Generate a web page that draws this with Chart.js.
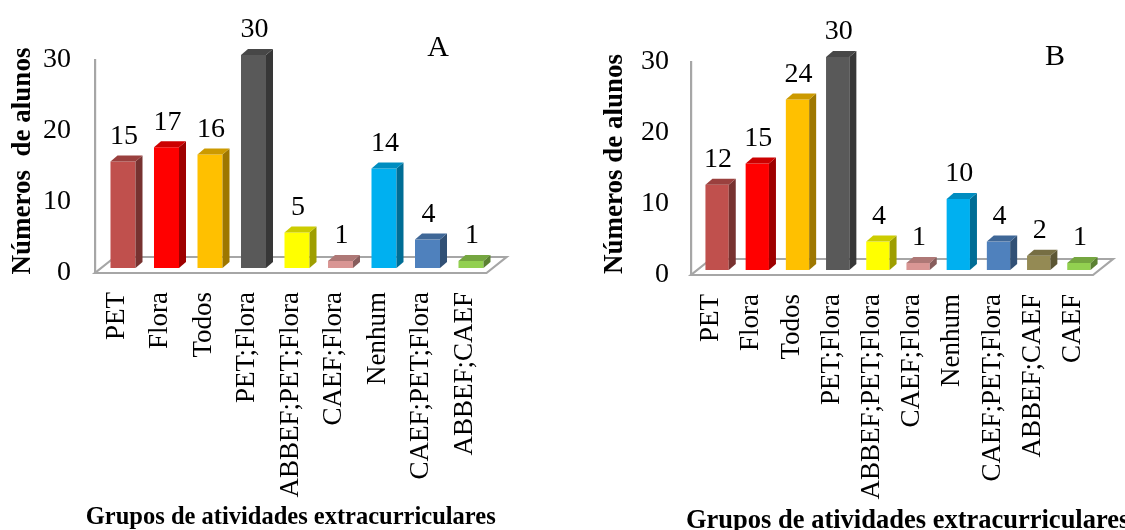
<!DOCTYPE html>
<html>
<head>
<meta charset="utf-8">
<script src="https://cdn.jsdelivr.net/npm/chart.js@4.4.0/dist/chart.umd.min.js"></script>
<style>
  html, body { margin: 0; padding: 0; background: #ffffff; }
  #wrap { position: relative; width: 1125px; height: 530px; overflow: hidden; background: #ffffff; }
  .panel { position: absolute; top: 0; height: 530px; }
  #pa { left: 0; width: 560px; }
  #pb { left: 560px; width: 565px; }
</style>
</head>
<body>
<div id="wrap">
  <div class="panel" id="pa"><canvas id="ca" width="560" height="530" style="width:560px;height:530px"></canvas></div>
  <div class="panel" id="pb"><canvas id="cb" width="565" height="530" style="width:565px;height:530px"></canvas></div>
</div>
<script>
// ---- data ----
const categoriesA = ['PET', 'Flora', 'Todos', 'PET;Flora', 'ABBEF;PET;Flora', 'CAEF;Flora', 'Nenhum', 'CAEF;PET;Flora', 'ABBEF;CAEF'];
const valuesA = [15, 17, 16, 30, 5, 1, 14, 4, 1];

const categoriesB = ['PET', 'Flora', 'Todos', 'PET;Flora', 'ABBEF;PET;Flora', 'CAEF;Flora', 'Nenhum', 'CAEF;PET;Flora', 'ABBEF;CAEF', 'CAEF'];
const valuesB = [12, 15, 24, 30, 4, 1, 10, 4, 2, 1];

const yTicks = [0, 10, 20, 30];

const yTitleA = 'Números  de alunos';
const yTitleB = 'Números de alunos';
const xTitle = 'Grupos de atividades extracurriculares';

// ---- styling ----
const SERIF = '"Liberation Serif", "Times New Roman", Times, serif';
const colorsA = ['#C0504D', '#FF0000', '#FFC000', '#595959', '#FFFF00', '#D99694', '#00B0F0', '#4F81BD', '#92D050'];
const colorsB = ['#C0504D', '#FF0000', '#FFC000', '#595959', '#FFFF00', '#D99694', '#00B0F0', '#4F81BD', '#948A54', '#92D050'];
const AXIS_GRAY = '#A6A6A6';

function shade(hex, f) {
  const n = parseInt(hex.slice(1), 16);
  const r = Math.round(((n >> 16) & 255) * f);
  const g = Math.round(((n >> 8) & 255) * f);
  const b = Math.round((n & 255) * f);
  return `rgb(${r},${g},${b})`;
}

// Draws the 3D floor, shifts the bars into the middle of the floor depth,
// adds top/side faces, value labels, the panel letter and the axis titles.
const column3d = {
  id: 'column3d',
  beforeDatasetsDraw(chart, args, o) {
    const { ctx, chartArea: a } = chart;
    ctx.save();
    ctx.strokeStyle = AXIS_GRAY;
    ctx.lineWidth = 2.2;
    ctx.lineJoin = 'miter';
    ctx.beginPath();
    ctx.moveTo(a.left, a.bottom);
    ctx.lineTo(a.right, a.bottom);
    ctx.lineTo(a.right + o.floorDx, a.bottom + o.floorDy);
    ctx.lineTo(a.left + o.floorDx, a.bottom + o.floorDy);
    ctx.closePath();
    ctx.stroke();
    ctx.restore();
    ctx.save();
    ctx.translate(o.shiftX, o.shiftY);
  },
  afterDatasetsDraw(chart, args, o) {
    const ctx = chart.ctx;
    const ds = chart.data.datasets[0];
    const meta = chart.getDatasetMeta(0);
    meta.data.forEach((bar, i) => {
      const { x, y, base, width } = bar.getProps(['x', 'y', 'base', 'width'], true);
      const l = x - width / 2, r = x + width / 2;
      const dx = o.depthX, dy = o.depthY;
      const c = ds.backgroundColor[i];
      // side face
      ctx.fillStyle = shade(c, 0.62);
      ctx.beginPath();
      ctx.moveTo(r, y); ctx.lineTo(r + dx, y + dy); ctx.lineTo(r + dx, base + dy); ctx.lineTo(r, base);
      ctx.closePath(); ctx.fill();
      // top face
      ctx.fillStyle = shade(c, 0.8);
      ctx.beginPath();
      ctx.moveTo(l, y); ctx.lineTo(l + dx, y + dy); ctx.lineTo(r + dx, y + dy); ctx.lineTo(r, y);
      ctx.closePath(); ctx.fill();
    });
    ctx.restore();

    // value labels
    ctx.save();
    ctx.fillStyle = '#000';
    ctx.font = `28px ${SERIF}`;
    ctx.textAlign = 'center';
    ctx.textBaseline = 'middle';
    meta.data.forEach((bar, i) => {
      const { x, y } = bar.getProps(['x', 'y'], true);
      ctx.fillText(String(ds.data[i]), x + o.shiftX + 1, y + o.shiftY - 25);
    });
    // panel letter
    ctx.font = `30px ${SERIF}`;
    ctx.fillText(o.letter, o.letterX, o.letterY);
    ctx.restore();
  },
  afterDraw(chart, args, o) {
    const ctx = chart.ctx;
    const a = chart.chartArea;
    ctx.save();
    ctx.fillStyle = '#000';
    ctx.textBaseline = 'middle';
    // category axis title
    ctx.font = `bold ${o.titleSize}px ${SERIF}`;
    if (o.titleAlign === 'start') {
      ctx.textAlign = 'left';
      ctx.fillText(xTitle, o.titleX, o.titleY);
    } else {
      ctx.textAlign = 'center';
      ctx.fillText(xTitle, (a.left + a.right) / 2, o.titleY);
    }
    // value axis title, rotated
    ctx.font = `bold 27px ${SERIF}`;
    ctx.textAlign = 'center';
    ctx.translate(o.yTitleX, o.yTitleY);
    ctx.rotate(-Math.PI / 2);
    ctx.fillText(o.yTitle, 0, 0);
    ctx.restore();
  }
};

function makeChart(canvasId, labels, values, colors, cfg) {
  return new Chart(document.getElementById(canvasId), {
    type: 'bar',
    data: {
      labels: labels,
      datasets: [{
        data: values,
        backgroundColor: colors,
        borderWidth: 0,
        categoryPercentage: 1,
        barPercentage: cfg.barPct,
        clip: false
      }]
    },
    options: {
      responsive: false,
      animation: false,
      events: [],
      layout: { padding: { left: 0, right: cfg.padRight, top: cfg.top, bottom: 0 } },
      plugins: {
        legend: { display: false },
        tooltip: { enabled: false },
        column3d: cfg.plugin
      },
      scales: {
        x: {
          grid: { display: false, drawTicks: false },
          border: { display: false },
          ticks: {
            autoSkip: false, minRotation: 90, maxRotation: 90, padding: 19,
            color: '#000', font: { family: SERIF, size: 27 }
          },
          title: { display: false },
          afterFit(s) { s.height = 530 - cfg.bottom; }
        },
        y: {
          min: 0, max: 30,
          grid: { display: false, drawTicks: false },
          border: { display: true, color: AXIS_GRAY, width: 2.2 },
          ticks: { padding: cfg.tickPad, color: '#000', font: { family: SERIF, size: 28 } },
          afterBuildTicks(s) { s.ticks = yTicks.map(v => ({ value: v })); },
          title: { display: false },
          afterFit(s) { s.width = cfg.left; }
        }
      }
    },
    plugins: [column3d]
  });
}

makeChart('ca', categoriesA, valuesA, colorsA, {
  barPct: 0.575, padRight: 560 - 486.5, top: 60, bottom: 273, left: 95, tickPad: 24,
  plugin: {
    floorDx: 20, floorDy: -16, shiftX: 6.25, shiftY: -5, depthX: 7, depthY: -6,
    letter: 'A', letterX: 438, letterY: 48,
    titleSize: 24.5, titleAlign: 'center', titleY: 518,
    yTitle: yTitleA, yTitleX: 23, yTitleY: 161
  }
});

makeChart('cb', categoriesB, valuesB, colorsB, {
  barPct: 0.58, padRight: 565 - 551, top: 62, bottom: 275, left: 131, tickPad: 22,
  plugin: {
    floorDx: 20, floorDy: -16, shiftX: 6, shiftY: -5, depthX: 7, depthY: -6,
    letter: 'B', letterX: 495, letterY: 57,
    titleSize: 26.5, titleAlign: 'start', titleX: 126, titleY: 521,
    yTitle: yTitleB, yTitleX: 55, yTitleY: 164
  }
});
</script>
</body>
</html>
